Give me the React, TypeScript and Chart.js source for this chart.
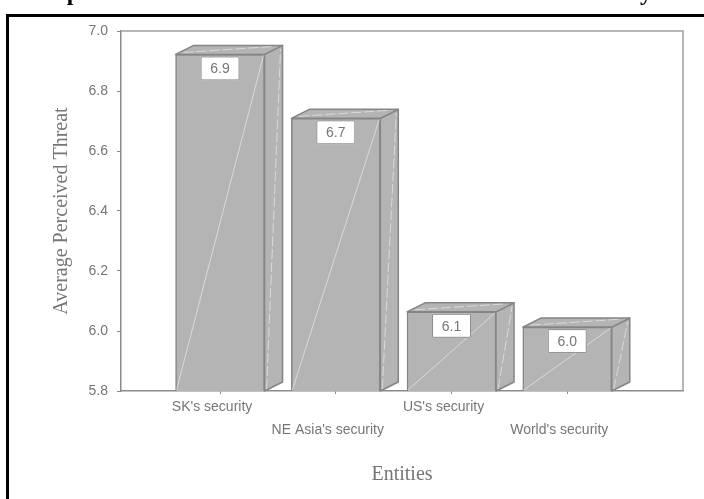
import { useEffect, useRef } from "react";
import { Chart, registerables } from "chart.js";

Chart.register(...registerables);

// ---- data ----
const categories = ["SK's security", "NE Asia's security", "US's security", "World's security"];
const threatValues = [6.922, 6.709, 6.064, 6.013];
const yTickValues = [5.8, 6.0, 6.2, 6.4, 6.6, 6.8, 7.0];
const chartTitle = "Perception of the North Korean Nuclear Threat to Each Entity";
const xAxisTitle = "Entities";
const yAxisTitle = "Average Perceived Threat";

// ---- styling ----
const FACE = "#b4b4b4";
const EDGE = "#858585";
const AXIS = "#8a8a8a";
const TEXT = "#767676";
const DEPTH_X = 18;
const DEPTH_Y = 9;
const SANS = "Arial, 'Liberation Sans', sans-serif";
const SERIF = "'Times New Roman', 'Liberation Serif', serif";

type Pt = [number, number];

function polygon(ctx: CanvasRenderingContext2D, pts: Pt[]) {
  ctx.beginPath();
  ctx.moveTo(pts[0][0], pts[0][1]);
  for (let i = 1; i < pts.length; i++) ctx.lineTo(pts[i][0], pts[i][1]);
  ctx.closePath();
  ctx.fill();
  ctx.stroke();
}

function line(ctx: CanvasRenderingContext2D, a: Pt, b: Pt) {
  ctx.beginPath();
  ctx.moveTo(a[0], a[1]);
  ctx.lineTo(b[0], b[1]);
  ctx.stroke();
}

// Outer frame, cropped heading and the top/right edges of the plot box
const framePlugin = {
  id: "frame",
  beforeDatasetsDraw(chart: any) {
    const { ctx, chartArea } = chart;
    ctx.save();
    ctx.strokeStyle = "#a0a0a0";
    ctx.lineWidth = 1.5;
    ctx.beginPath();
    ctx.moveTo(chartArea.left, chartArea.top);
    ctx.lineTo(chartArea.right, chartArea.top);
    ctx.lineTo(chartArea.right, chartArea.bottom);
    ctx.stroke();
    ctx.restore();
  },
  afterDraw(chart: any) {
    const { ctx } = chart;
    ctx.save();
    ctx.fillStyle = "#000";
    ctx.fillRect(6, 14, 3, 499 - 14);
    ctx.fillRect(6, 14, 704 - 6, 3);
    ctx.font = `bold 24px ${SERIF}`;
    ctx.textBaseline = "alphabetic";
    ctx.textAlign = "left";
    ctx.fillText(chartTitle, 10, 0);
    ctx.restore();
  },
};

// Extrudes each bar into a box and adds its value tag
const box3dPlugin = {
  id: "box3d",
  afterDatasetsDraw(chart: any) {
    const { ctx, chartArea } = chart;
    const meta = chart.getDatasetMeta(0);
    meta.data.forEach((bar: any, i: number) => {
      const p = bar.getProps(["x", "y", "base", "width"], true);
      const x = p.x;
      const y = p.y;
      const width = p.width;
      const base = Math.min(p.base, chartArea.bottom);
      const l = x - width / 2;
      const r = x + width / 2;
      ctx.save();
      ctx.lineWidth = 1.5;
      ctx.strokeStyle = EDGE;
      ctx.fillStyle = FACE;
      ctx.lineJoin = "round";
      // side face
      polygon(ctx, [
        [r, y],
        [r + DEPTH_X, y - DEPTH_Y],
        [r + DEPTH_X, base - DEPTH_Y],
        [r, base],
      ]);
      // top face
      polygon(ctx, [
        [l, y],
        [l + DEPTH_X, y - DEPTH_Y],
        [r + DEPTH_X, y - DEPTH_Y],
        [r, y],
      ]);
      // faint sheen lines
      ctx.lineWidth = 1;
      ctx.strokeStyle = "rgba(255,255,255,0.5)";
      line(ctx, [l + 1, base - 1], [r - 1, y + 1]);
      ctx.setLineDash([10, 3]);
      line(ctx, [r + 2, base - 2], [r + DEPTH_X - 2, y - DEPTH_Y + 4]);
      line(ctx, [l + 8, y - 2], [r + DEPTH_X - 8, y - DEPTH_Y + 1]);
      ctx.setLineDash([]);

      // value tag
      const bw = 39;
      const bh = 24;
      const bx = x - bw / 2;
      const by = y + 2;
      ctx.fillStyle = "#ffffff";
      ctx.fillRect(bx, by, bw, bh);
      ctx.strokeStyle = "#8c8c8c";
      ctx.lineWidth = 1;
      ctx.strokeRect(bx + 0.5, by + 0.5, bw - 1, bh - 1);
      ctx.fillStyle = TEXT;
      ctx.font = `14px ${SANS}`;
      ctx.textAlign = "center";
      ctx.textBaseline = "middle";
      ctx.fillText(threatValues[i].toFixed(1), x, by + bh / 2 + 1);
      ctx.restore();
    });
  },
};

export default function App() {
  const canvasRef = useRef<HTMLCanvasElement | null>(null);

  useEffect(() => {
    const canvas = canvasRef.current;
    if (!canvas) return;
    const chart = new Chart(canvas, {
      type: "bar",
      data: {
        datasets: [
          {
            data: threatValues.map((v, i) => ({ x: i, y: v })),
            backgroundColor: FACE,
            borderColor: EDGE,
            borderWidth: 1.5,
            barThickness: 89,
          },
        ],
      },
      options: {
        animation: false,
        responsive: false,
        devicePixelRatio: 1,
        layout: { padding: { left: 0, top: 31, right: 21, bottom: 0 } },
        plugins: {
          legend: { display: false },
          tooltip: { enabled: false },
          title: { display: false },
        },
        scales: {
          x: {
            type: "linear",
            min: -0.856,
            max: 4.0,
            offset: false,
            afterFit: (s: any) => {
              s.height = 108;
            },
            afterBuildTicks: (s: any) => {
              s.ticks = categories.map((_, i) => ({ value: i }));
            },
            grid: {
              offset: false,
              drawOnChartArea: false,
              drawTicks: true,
              tickLength: 3,
              color: AXIS,
              lineWidth: 1,
            },
            border: { display: true, color: AXIS, width: 1.5 },
            ticks: {
              autoSkip: false,
              maxRotation: 0,
              minRotation: 0,
              labelOffset: -8,
              padding: 1,
              color: TEXT,
              font: { family: SANS, size: 14, lineHeight: 1.68 },
              callback: (v: any) => {
                const i = Math.round(Number(v));
                return i % 2 === 1 ? ["", categories[i]] : categories[i];
              },
            },
            title: {
              display: true,
              text: xAxisTitle,
              color: TEXT,
              font: { family: SERIF, size: 20, lineHeight: 1.2 },
              padding: { top: 0, bottom: 12 },
            },
          },
          y: {
            type: "linear",
            min: 5.8,
            max: 7.0,
            afterFit: (s: any) => {
              s.width = 121;
            },
            afterBuildTicks: (s: any) => {
              s.ticks = yTickValues.map((v) => ({ value: v }));
            },
            grid: {
              drawOnChartArea: false,
              drawTicks: true,
              tickLength: 4,
              color: AXIS,
              lineWidth: 1,
            },
            border: { display: true, color: AXIS, width: 1.5 },
            ticks: {
              padding: 9,
              color: TEXT,
              font: { family: SANS, size: 14 },
              callback: (v: any) => Number(v).toFixed(1),
            },
            title: {
              display: true,
              text: yAxisTitle,
              color: TEXT,
              font: { family: SERIF, size: 20, lineHeight: 1.2 },
              padding: { top: 50, bottom: 0 },
            },
          },
        },
      } as any,
      plugins: [framePlugin, box3dPlugin],
    });
    return () => chart.destroy();
  }, []);

  return (
    <div style={{ position: "absolute", left: 0, top: 0, width: 704, height: 499, background: "#fff" }}>
      <canvas ref={canvasRef} width={704} height={499} style={{ display: "block" }} />
    </div>
  );
}
